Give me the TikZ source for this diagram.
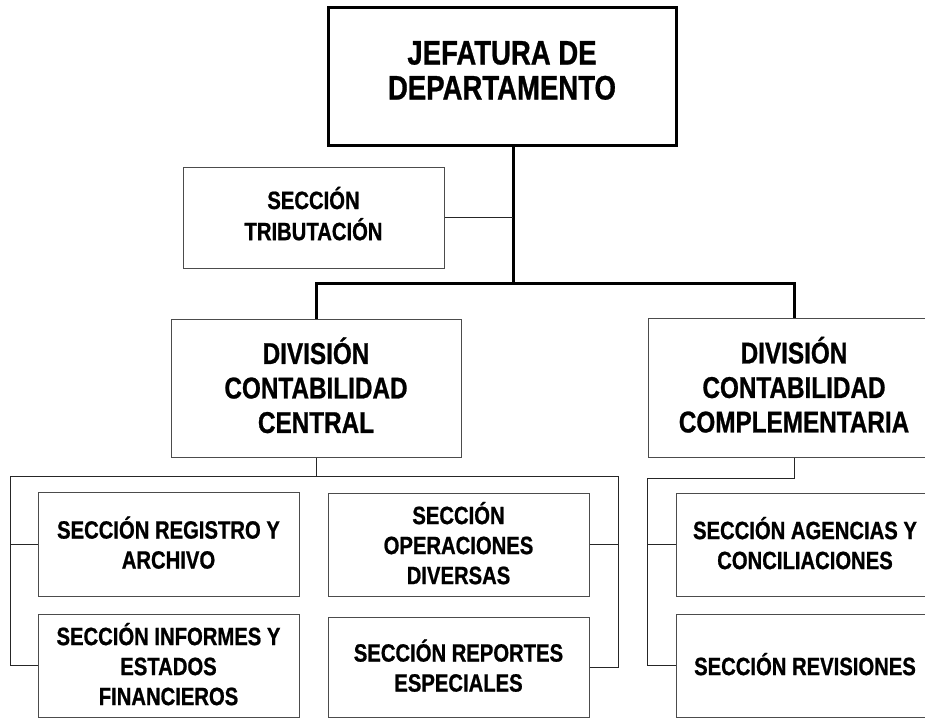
\documentclass[tikz,border=0pt]{standalone}
\usepackage{fontspec}
\setmainfont{Liberation Sans}[FakeStretch=0.81, BoldFeatures={FakeStretch=0.81, FakeBold=0.8}]
\newcommand\txt[2][0pt]{\raisebox{0pt}[\dimexpr\height+#1\relax][\depth]{\begin{tabular}{@{}c@{}}#2\end{tabular}}}
\begin{document}
\begin{tikzpicture}[x=1pt,y=-1pt,
  box/.style={draw=black!70, line width=1pt, rectangle, inner sep=0pt,
    font=\bfseries\fontsize{25}{30}\selectfont},
  bigbox/.style={box, font=\bfseries\fontsize{30}{34.5}\selectfont},
  headbox/.style={box, draw=black, line width=3pt, font=\bfseries\fontsize{34}{35}\selectfont},
  thinline/.style={draw=black!85, line width=1pt},
  thickline/.style={draw=black, line width=3pt}]
\useasboundingbox (0,0) rectangle (925,720);
\clip (0,0) rectangle (925,720);
\fill[white] (0,0) rectangle (925,720);
% boxes
\node[headbox, minimum width=348pt, minimum height=138pt] (top) at (502,76) {\txt[-2pt]{JEFATURA DE\\DEPARTAMENTO}};
\node[box, minimum width=261pt, minimum height=101pt] (trib) at (313.5,217.5) {\txt[1pt]{SECCIÓN\\TRIBUTACIÓN}};
\node[bigbox, minimum width=290pt, minimum height=138pt] (central) at (316,388) {\txt[4.6pt]{DIVISIÓN\\CONTABILIDAD\\CENTRAL}};
\node[bigbox, minimum width=292pt, minimum height=139pt] (compl) at (794,387.5) {\txt[4.6pt]{DIVISIÓN\\CONTABILIDAD\\COMPLEMENTARIA}};
\node[box, minimum width=261pt, minimum height=104pt] (registro) at (168.5,544) {\txt[6pt]{SECCIÓN REGISTRO Y\\ARCHIVO}};
\node[box, minimum width=261pt, minimum height=103pt] (informes) at (168.5,665.5) {\txt[6pt]{SECCIÓN INFORMES Y\\ESTADOS\\FINANCIEROS}};
\node[box, minimum width=261pt, minimum height=103pt] (operac) at (458.5,544.5) {\txt[6pt]{SECCIÓN\\OPERACIONES\\DIVERSAS}};
\node[box, minimum width=261pt, minimum height=100pt] (reportes) at (458.5,667) {\txt[6pt]{SECCIÓN REPORTES\\ESPECIALES}};
\node[box, minimum width=258pt, minimum height=103pt] (agencias) at (805,544.5) {\txt[6pt]{SECCIÓN AGENCIAS Y\\CONCILIACIONES}};
\node[box, minimum width=258pt, minimum height=103pt] (revis) at (805,665.5) {\txt[6pt]{SECCIÓN REVISIONES}};
% junctions
\coordinate (jb) at (513,283);
\coordinate (cl) at (10,476);
\coordinate (cr) at (618,476);
\coordinate (rl) at (647,478);
% connectors
\draw[thickline] (top.south -| jb) -- (jb);
\draw[thinline] (trib.east) -- (trib.east -| jb);
\draw[thickline] (central.north) |- (jb) -| (compl.north);
\draw[thinline] (central.south) -- (central.south |- cl);
\draw[thinline] (cl) -- (cr);
\draw[thinline] (cl) |- (registro.west);
\draw[thinline] (cl) |- (informes.west);
\draw[thinline] (cr) |- (operac.east);
\draw[thinline] (cr) |- (reportes.east);
\draw[thinline] (compl.south) |- (rl);
\draw[thinline] (rl) |- (agencias.west);
\draw[thinline] (rl) |- (revis.west);
\end{tikzpicture}
\end{document}
